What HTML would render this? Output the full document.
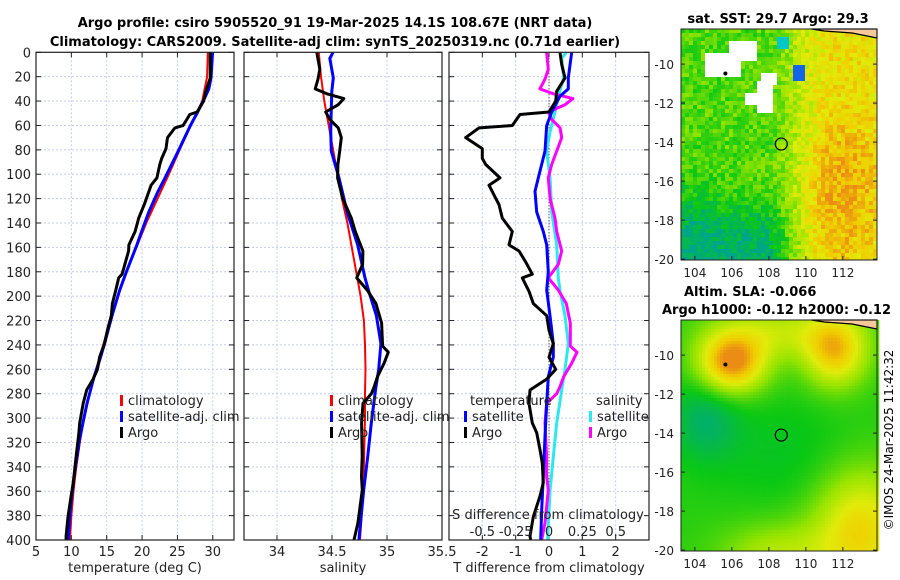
<!DOCTYPE html>
<html><head><meta charset="utf-8"><style>
body{margin:0;background:#fff;}
svg{display:block;font-family:"DejaVu Sans","Liberation Sans",sans-serif;}
</style></head><body>
<svg id="chart" width="900" height="580" viewBox="0 0 900 580" xmlns="http://www.w3.org/2000/svg">
<rect width="900" height="580" fill="#fff"/>
<text x="335" y="27" text-anchor="middle" font-weight="bold" font-size="13">Argo profile: csiro 5905520_91 19-Mar-2025 14.1S 108.67E (NRT data)</text>
<text x="335" y="46" text-anchor="middle" font-weight="bold" font-size="13">Climatology: CARS2009. Satellite-adj clim: synTS_20250319.nc (0.71d earlier)</text>
<text x="778" y="23" text-anchor="middle" font-weight="bold" font-size="13">sat. SST: 29.7 Argo: 29.3</text>
<text x="684" y="296" font-weight="bold" font-size="13">Altim. SLA: -0.066</text>
<text x="662" y="314" font-weight="bold" font-size="13">Argo h1000: -0.12 h2000: -0.12</text>
<text transform="translate(893,440) rotate(-90)" text-anchor="middle" font-size="12">©IMOS 24-Mar-2025 11:42:32</text>
<g id="layers"></g>
</svg>
<script>
// ---- data ----
const climDepth = [0,20,40,60,80,100,120,140,160,180,200,220,240,260,280,300,320,340,360,380,400];
const climTemp = [29.3,29.2,28.5,26.9,25.3,23.8,22.2,20.6,19.2,17.8,16.6,15.5,14.5,13.5,12.6,11.8,11.2,10.7,10.3,10.0,9.8];
const climSal = [34.38,34.40,34.43,34.47,34.51,34.55,34.59,34.64,34.68,34.72,34.76,34.79,34.80,34.805,34.80,34.80,34.795,34.79,34.78,34.77,34.755];

const argoTDepth = [0,10,21,32,40,49,51,60,62,70,79,87,92,103,109,125,136,147,158,163,172,182,185,196,206,216,228,239,250,260,268,277,288,304,312,326,337,353,364,381,397,400];
const argoTDiff = [0.33,0.38,0.48,0.23,0.2,0,-0.87,-1.1,-2.1,-2.5,-2.0,-2.0,-1.9,-1.47,-1.8,-1.5,-1.4,-1.1,-1.2,-0.9,-0.7,-0.5,-0.8,-0.6,-0.47,-0.07,0,0.13,0,0.2,-0.07,-0.57,-0.6,-0.5,-0.37,-0.27,-0.2,-0.17,-0.27,-0.47,-0.57,-0.55];
const satTDepth = [0,21,30,36,49,60,81,103,114,131,147,158,180,195,216,239,250,266,288,315,348,375,400];
const satTDiff = [0.68,0.58,0.58,0.33,0.08,-0.07,-0.12,-0.32,-0.42,-0.37,-0.17,-0.07,-0.02,-0.07,0.03,0.13,0.13,-0.02,-0.07,-0.12,-0.17,-0.22,-0.25];
const satSDepth = [0,5,21,32,49,65,81,103,131,158,185,196,216,239,260,277,304,331,359,397,400];
const satSDiff = [0.13,0.095,0.11,0.08,0.045,0.008,-0.018,0.008,0.02,0.058,0.07,0.083,0.12,0.145,0.12,0.095,0.058,0.033,0.008,-0.01,-0.01];
const argoSDepth = [0,14,22,30,34,38,43,49,55,62,70,81,92,103,120,136,147,163,174,185,190,195,206,222,241,246,255,266,274,280,288,304,331,348,359,386,400];
const argoSDiff = [-0.018,-0.005,-0.03,-0.068,0.033,0.18,0.12,-0.005,0.02,0.083,0.095,0.058,0.02,-0.005,0.008,0.045,0.058,0.095,0.07,-0.005,0.033,0.07,0.13,0.16,0.16,0.21,0.17,0.11,0.083,0.058,-0.018,-0.03,-0.018,-0.018,-0.005,-0.03,-0.055];

const depthTicks = [0,20,40,60,80,100,120,140,160,180,200,220,240,260,280,300,320,340,360,380,400];
const tempTicks = [5,10,15,20,25,30];
const salTicks = [34,34.5,35,35.5];
const tdiffTicks = [-2,-1,0,1,2];
const tdiffTickLabels = ['-2','-1','0','1','2'];
const sdiffTicks = [-0.5,-0.25,0,0.25,0.5];
const latTicks = [-10,-12,-14,-16,-18,-20];
const lonTicks = [104,106,108,110,112];
const argoLon = 108.67, argoLat = -14.1;

// ---- scales ----
const NS='http://www.w3.org/2000/svg';
const root=document.getElementById('layers');
const PY0=52.3, PY1=540;
const yD=d=>PY0+d*(PY1-PY0)/400;
const xT=t=>36+(t-5)*(198/28);
const xS=s=>244+(s-33.7)*110;
const xDT=v=>449+(v+3)*(200/6);
const xDS=v=>xDT(v*4);
function interp(xs,ys,x){for(let i=0;i<xs.length-1;i++){if(x<=xs[i+1]){const f=(x-xs[i])/(xs[i+1]-xs[i]);return ys[i]+f*(ys[i+1]-ys[i]);}}return ys[ys.length-1];}
function el(tag,attrs,parent){const e=document.createElementNS(NS,tag);for(const k in attrs)e.setAttribute(k,attrs[k]);(parent||root).appendChild(e);return e;}
function txt(x,y,s,size,anchor,parent){const t=el('text',{x:x,y:y,'font-size':size,'text-anchor':anchor||'middle',fill:'#222'},parent);t.textContent=s;return t;}

function panel(name,x0,x1,xticks,xfn,xlabels,xtitle){
  const g=el('g',{});
  
  
  el('rect',{x:x0,y:PY0,width:x1-x0,height:PY1-PY0,fill:'#fff'},g);
  depthTicks.forEach(d=>{const l=el('line',{x1:x0,x2:x1,y1:yD(d),y2:yD(d),stroke:'#c4cbee','stroke-width':1,'stroke-dasharray':'2,2'},g);
    
    el('line',{x1:x0,x2:x0+5,y1:yD(d),y2:yD(d),stroke:'#222'},g);el('line',{x1:x1-5,x2:x1,y1:yD(d),y2:yD(d),stroke:'#222'},g);});
  xticks.forEach((v,i)=>{const x=xfn(v);const l=el('line',{x1:x,x2:x,y1:PY0,y2:PY1,stroke:'#c4cbee','stroke-width':1,'stroke-dasharray':'2,2'},g);
    
    el('line',{x1:x,x2:x,y1:PY1-5,y2:PY1,stroke:'#222'},g);el('line',{x1:x,x2:x,y1:PY0,y2:PY0+5,stroke:'#222'},g);
    const t=txt(x,556,xlabels[i],13);});
  const t=txt((x0+x1)/2,572,xtitle,13);
  
  
  return g;
}
function line(g,xs,ys,color,w,name){
  const p=el('polyline',{points:xs.map((x,i)=>x.toFixed(1)+','+ys[i].toFixed(1)).join(' '),fill:'none',stroke:color,'stroke-width':w,'stroke-linejoin':'round'},g);
  
  
}
function frame(g,x0,x1){el('rect',{x:x0,y:PY0,width:x1-x0,height:PY1-PY0,fill:'none',stroke:'#222','stroke-width':1.2},g);}
function legend(g,x,y,items){items.forEach((it,i)=>{el('rect',{x:x,y:y+i*16-10,width:3,height:11,fill:it[1]},g);const t=txt(x+8,y+i*16,it[0],13,'start',g);
  });}

// panel 1 temperature
const g1=panel('temperature-panel',36,234,tempTicks,xT,tempTicks.map(String),'temperature (deg C)');
depthTicks.forEach(d=>{const t=txt(31,yD(d)+5,String(d),13,'end');});
line(g1,climDepth.map(d=>xT(interp(climDepth,climTemp,d))),climDepth.map(yD),'#f00',2,'climatology-temperature-line');
line(g1,satTDepth.map((d,i)=>xT(interp(climDepth,climTemp,d)+satTDiff[i])),satTDepth.map(yD),'#00f',3,'satellite-temperature-line');
line(g1,argoTDepth.map((d,i)=>xT(interp(climDepth,climTemp,d)+argoTDiff[i])),argoTDepth.map(yD),'#000',3,'argo-temperature-line');
frame(g1,36,234);
legend(g1,120,405,[['climatology','#f00'],['satellite-adj. clim','#00f'],['Argo','#000']]);

// panel 2 salinity
const g2=panel('salinity-panel',244,442,salTicks,xS,salTicks.map(String),'salinity');
line(g2,climDepth.map(d=>xS(interp(climDepth,climSal,d))),climDepth.map(yD),'#f00',2,'climatology-salinity-line');
line(g2,satSDepth.map((d,i)=>xS(interp(climDepth,climSal,d)+satSDiff[i])),satSDepth.map(yD),'#00f',3,'satellite-salinity-line');
line(g2,argoSDepth.map((d,i)=>xS(interp(climDepth,climSal,d)+argoSDiff[i])),argoSDepth.map(yD),'#000',3,'argo-salinity-line');
frame(g2,244,442);
legend(g2,330,405,[['climatology','#f00'],['satellite-adj. clim','#00f'],['Argo','#000']]);

// panel 3 differences
const g3=panel('difference-panel',449,649,tdiffTicks,xDT,tdiffTickLabels,'T difference from climatology');
el('line',{x1:xDT(0),x2:xDT(0),y1:PY0,y2:PY1,stroke:'#222','stroke-width':1,'stroke-dasharray':'1,2'},g3);
line(g3,satSDepth.map((d,i)=>xDS(satSDiff[i])),satSDepth.map(yD),'#2ee8f0',3,'satellite-salinity-diff-line');
line(g3,argoSDepth.map((d,i)=>xDS(argoSDiff[i])),argoSDepth.map(yD),'#f0f',3,'argo-salinity-diff-line');
line(g3,satTDepth.map((d,i)=>xDT(satTDiff[i])),satTDepth.map(yD),'#00f',3,'satellite-temperature-diff-line');
line(g3,argoTDepth.map((d,i)=>xDT(argoTDiff[i])),argoTDepth.map(yD),'#000',3,'argo-temperature-diff-line');
frame(g3,449,649);
txt(470,405,'temperature',13,'start',g3);
legend(g3,464,421,[['satellite','#00f'],['Argo','#000']]);
txt(596,405,'salinity',13,'start',g3);
legend(g3,589,421,[['satellite','#2ee8f0'],['Argo','#f0f']]);
{const t=txt(548,519,'S difference from climatology',13,'middle',g3);}
sdiffTicks.forEach(v=>{const t=txt(xDS(v),536,String(v),13,'middle',g3);});

// ---- maps ----
const MX0=681,MX1=877;
const lonX=lon=>MX0+(lon-103.25)*18.5;
const clamp=(v,a,b)=>Math.max(a,Math.min(b,v));
const ss=(a,b,x)=>{const t=clamp((x-a)/(b-a),0,1);return t*t*(3-2*t);};
const gs=(lon,lat,cx,cy,sx,sy)=>Math.exp(-((lon-cx)**2/(2*sx*sx)+(lat-cy)**2/(2*sy*sy)));
const stops=[[0,[0,165,140]],[0.25,[10,200,20]],[0.5,[150,228,0]],[0.7,[225,235,10]],[0.85,[240,205,0]],[1,[235,140,20]]];
function cmap(v){v=clamp(v,0,1);for(let i=0;i<stops.length-1;i++){if(v<=stops[i+1][0]){const f=(v-stops[i][0])/(stops[i+1][0]-stops[i][0]);const a=stops[i][1],b=stops[i+1][1];return 'rgb('+a.map((c,k)=>Math.round(c+f*(b[k]-c))).join(',')+')';}}return 'rgb(235,140,20)';}
function hash(i,j){let h=(i*374761393+j*668265263)|0;h=(h^(h>>>13))*1274126177|0;return ((h^(h>>>16))>>>0)/4294967296;}

function drawMap(name,y0,field,cell,noisy){
  const g=el('g',{});
  
  
  const latY=lat=>y0+(-8.2-lat)*19.5;
  const H=231;
  for(let j=0;j*cell<H;j++)for(let i=0;i*cell<MX1-MX0;i++){
    const px=MX0+i*cell,py=y0+j*cell;
    const lon=103.25+(px+cell/2-MX0)/18.5, lat=-8.2-(py+cell/2-y0)/19.5;
    const c=field(lon,lat,noisy?hash(i,j):0.5);
    el('rect',{x:px,y:py,width:cell+0.3,height:Math.min(cell,y0+H-py)+0.3,fill:c},g);
  }
  latTicks.forEach(l=>{const y=latY(l);el('line',{x1:MX0,x2:MX0+4,y1:y,y2:y,stroke:'#222'},g);el('line',{x1:MX1-4,x2:MX1,y1:y,y2:y,stroke:'#222'},g);
    const t=txt(674,y+5,String(l),12,'end',g);});
  lonTicks.forEach(l=>{const x=lonX(l);el('line',{x1:x,x2:x,y1:y0+H-4,y2:y0+H,stroke:'#222'},g);
    const t=txt(x,y0+H+17,String(l),12,'middle',g);});
  el('polygon',{points:`${lonX(110.3)},${y0} ${MX1},${y0} ${MX1},${y0+9} ${lonX(112.5)},${y0+4} ${lonX(111)},${y0+2}`,fill:'#f8c89a',stroke:'#000','stroke-width':1.2},g);
  el('circle',{cx:lonX(105.65),cy:latY(-10.48),r:2,fill:'#000'},g);
  const c=el('circle',{cx:lonX(argoLon),cy:latY(argoLat),r:6,fill:'none',stroke:'#000','stroke-width':1.2},g);
  
  
  el('rect',{x:MX0,y:y0,width:MX1-MX0,height:H,fill:'none',stroke:'#222'},g);
}
function sstField(lon,lat,n){
  if((lon>104.5&&lon<106.6&&lat>-10.6&&lat<-9.4)||(lon>105.8&&lon<107.3&&lat>-9.8&&lat<-8.8)||(lon>107.4&&lon<108.2&&lat>-12.5&&lat<-10.8)||(lon>107.6&&lon<108.5&&lat>-11&&lat<-10.4)||(lon>106.8&&lon<107.6&&lat>-12&&lat<-11.4))return '#fff';
  if(lon>109.3&&lon<110&&lat>-10.8&&lat<-10)return 'rgb(20,100,230)';
  if(lon>108.5&&lon<109.1&&lat>-9.3&&lat<-8.7)return 'rgb(0,200,200)';
  let v=0.38+0.38*ss(107.5,111.5,lon)+0.17*gs(lon,lat,112,-16.5,1.5,2.5)-0.3*ss(-15.5,-19.5,lat)*(1-ss(107.5,110.5,lon))-0.06*(1-ss(104,106.5,lon))*ss(-13,-17,lat);
  v+=(n-0.5)*0.24;
  return cmap(v);
}
function slaField(lon,lat){
  let v=0.3+0.72*gs(lon,lat,106,-10.4,1.3,1.1)+0.55*gs(lon,lat,111.6,-9.8,1.2,1.3)+0.28*gs(lon,lat,108.5,-8.8,2.5,1)+0.5*gs(lon,lat,113,-19,1.8,2.2)+0.28*gs(lon,lat,108.5,-20.3,2.2,1.2)-0.22*gs(lon,lat,104.6,-13.3,1.3,1.5)-0.08*gs(lon,lat,109,-15,2.5,2);
  return cmap(v);
}
drawMap('sst-map',29,sstField,4,true);
drawMap('sla-map',320,slaField,3,false);
</script>
</body></html>
